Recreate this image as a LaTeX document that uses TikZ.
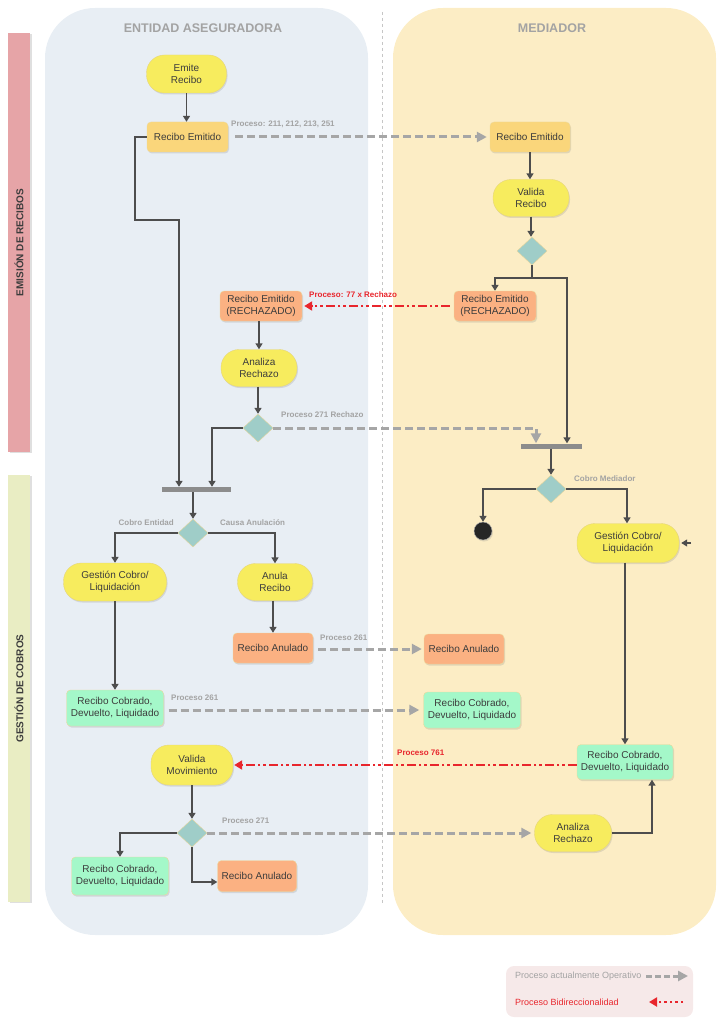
\documentclass[tikz,border=0pt]{standalone}
\usepackage{fontspec}
\setmainfont{Liberation Sans}
\usetikzlibrary{shapes.geometric,arrows.meta,shadows}
\definecolor{laneL}{HTML}{E8EEF4}
\definecolor{laneR}{HTML}{FCEDC5}
\definecolor{pillF}{HTML}{F7EC5E}
\definecolor{pillB}{HTML}{E6D67A}
\definecolor{boxYF}{HTML}{FAD67B}
\definecolor{boxSF}{HTML}{FBB182}
\definecolor{boxGF}{HTML}{A4F8C9}
\definecolor{boxB}{HTML}{EDD89A}
\definecolor{diaF}{HTML}{9FCDC8}
\definecolor{diaB}{HTML}{E3D49A}
\definecolor{txt}{HTML}{3C3C3C}
\definecolor{lineD}{HTML}{4D4D4D}
\definecolor{grayD}{HTML}{A6A6A6}
\definecolor{redD}{HTML}{E8262D}
\definecolor{lblG}{HTML}{A3A3A3}
\definecolor{barG}{HTML}{8C8C8C}
\definecolor{sideR}{HTML}{E6A4A7}
\definecolor{sideG}{HTML}{E9EDC3}
\definecolor{legF}{HTML}{F6E9E9}
\tikzset{
  shd/.style={drop shadow={shadow xshift=1pt,shadow yshift=-1.5pt,opacity=0.22}},
  pill/.style={shape=rectangle,rounded corners=18pt,draw=pillB,fill=pillF,shd,
    minimum width=78pt,minimum height=38pt,inner sep=1pt,align=center,
    text=txt,font=\fontsize{10}{12}\selectfont},
  boxbase/.style={shape=rectangle,rounded corners=4pt,draw=boxB,shd,
    minimum width=81pt,minimum height=30pt,inner sep=2pt,align=center,
    text=txt,font=\fontsize{10}{12}\selectfont},
  boxY/.style={boxbase,fill=boxYF},
  boxS/.style={boxbase,fill=boxSF,minimum width=82pt},
  boxG/.style={boxbase,fill=boxGF,minimum width=97pt,minimum height=36pt},
  dia/.style={shape=diamond,draw=diaB,fill=diaF,minimum width=30pt,minimum height=28pt,inner sep=0pt},
  barN/.style={shape=rectangle,fill=barG,minimum height=5pt,inner sep=0pt},
  endN/.style={shape=circle,fill=black!85,draw=gray!60,minimum size=18pt,inner sep=0pt,shd},
  arr/.style={draw=lineD,line width=1.6pt,-{Triangle[length=6pt,width=7pt]}},
  gdash/.style={draw=grayD,line width=3pt,dash pattern=on 8pt off 4pt,
    -{Triangle[length=10pt,width=10pt]}},
  redA/.style={draw=redD,line width=2.4pt,dash pattern=on 9pt off 3pt on 2.5pt off 3pt on 2.5pt off 3pt,
    -{Triangle[length=8pt,width=9pt]}},
  lbl/.style={text=lblG,font=\bfseries\fontsize{8}{9}\selectfont,inner sep=0pt},
  rlbl/.style={text=redD,font=\bfseries\fontsize{8}{9}\selectfont,inner sep=0pt},
  hdr/.style={text=lblG,font=\bfseries\fontsize{12.5}{14}\selectfont},
  side/.style={shape=rectangle,minimum width=22pt,inner sep=0pt,
    drop shadow={shadow xshift=2pt,shadow yshift=-1pt,opacity=0.25}},
  sidetxt/.style={rotate=90,text=txt,font=\bfseries\fontsize{10}{11}\selectfont}
}
\begin{document}
\begin{tikzpicture}[x=1pt,y=-1pt]
\useasboundingbox (0,0) rectangle (723,1024);
% lanes
\fill[laneL,rounded corners=50pt] (45,8) rectangle (368,935);
\fill[laneR,rounded corners=50pt] (393,8) rectangle (716,935);
\draw[gray!45,dashed,line width=0.6pt] (382,12) -- (382,905);
\node[hdr] (hL) at (203,28) {ENTIDAD ASEGURADORA};
\node[hdr] (hR) at (552,28) {MEDIADOR};
% side bars
\node[side,fill=sideR,minimum height=419pt] (s1) at (19,242.5) {};
\node[sidetxt] at (s1.center) {EMISIÓN DE RECIBOS};
\node[side,fill=sideG,minimum height=427pt] (s2) at (19,688.5) {};
\node[sidetxt] at (s2.center) {GESTIÓN DE COBROS};
% nodes
\node[pill,minimum width=80pt] (emite) at (186.5,74) {Emite\\Recibo};
\node[boxY] (re1) at (187.5,137) {Recibo Emitido};
\node[boxY,minimum width=80pt] (re2) at (530,137) {Recibo Emitido};
\node[pill,minimum width=76pt,minimum height=37pt] (valR) at (531,198) {Valida\\Recibo};
\node[dia] (d1) at (532,251) {};
\node[boxS] (rr2) at (495,306) {Recibo Emitido\\(RECHAZADO)};
\node[boxS] (rr1) at (261,306) {Recibo Emitido\\(RECHAZADO)};
\node[pill,minimum width=76pt,minimum height=37pt] (anR1) at (259,368) {Analiza\\Rechazo};
\node[dia] (d2) at (258,428) {};
\node[barN,minimum width=61pt] (barR) at (551,446) {};
\node[dia] (d3) at (551,489) {};
\node[endN] (endc) at (483,531) {};
\node[pill,minimum width=102pt,minimum height=39pt] (gcR) at (628,543) {Gestión Cobro/\\Liquidación};
\node[boxG,minimum width=96pt,minimum height=35pt] (rcR) at (625,762) {Recibo Cobrado,\\Devuelto, Liquidado};
\node[pill,minimum width=77pt,minimum height=37pt] (anR2) at (573,833) {Analiza\\Rechazo};
\node[barN,minimum width=69pt] (barL) at (196.5,489.5) {};
\node[dia] (d4) at (193,533) {};
\node[pill,minimum width=103pt,minimum height=38pt] (gcL) at (115,582) {Gestión Cobro/\\Liquidación};
\node[pill,minimum width=75pt,minimum height=37pt] (anul) at (275,582) {Anula\\Recibo};
\node[boxS,minimum width=80pt] (ra1) at (273,648) {Recibo Anulado};
\node[boxS,minimum width=80pt] (ra2) at (464,649) {Recibo Anulado};
\node[boxG] (rc1) at (115,708) {Recibo Cobrado,\\Devuelto, Liquidado};
\node[boxG] (rc2) at (472,710) {Recibo Cobrado,\\Devuelto, Liquidado};
\node[pill,minimum width=82pt,minimum height=40pt] (valM) at (192,765) {Valida\\Movimiento};
\node[dia] (d5) at (192,833) {};
\node[boxG,minimum height=38pt] (rc3) at (120,876) {Recibo Cobrado,\\Devuelto, Liquidado};
\node[boxS,minimum width=79pt,minimum height=31pt] (ra3) at (257,876) {Recibo Anulado};
% connectors
\draw[arr] (emite.south) -- (emite.south |- re1.north);
\draw[gdash] ([xshift=7pt]re1.east) -- ([xshift=-3pt]re2.west);
\node[lbl,anchor=west] (l1) at (231,124) {Proceso: 211, 212, 213, 251};
\draw[arr] (re2.south) -- (re2.south |- valR.north);
\draw[arr] (valR.south) -- (valR.south |- d1.north);
\draw[arr] (d1.south) -- ++(0,13) -| (rr2.north);
\draw[arr] (d1.south) -- ++(0,13) -| ([xshift=16pt]barR.north);
\draw[redA] ([xshift=-4pt]rr2.west) -- ([xshift=2pt]rr1.east);
\node[rlbl,anchor=west] (l2) at (309,295) {Proceso: 77 x Rechazo};
\draw[arr] (rr1.south -| anR1.north) -- (anR1.north);
\draw[arr] (anR1.south -| d2.north) -- (d2.north);
\draw[arr] (d2.west) -| ([xshift=15.5pt]barL.north);
\draw[gdash] (d2.east) -| ([xshift=-15pt]barR.north);
\node[lbl,anchor=west] (l3) at (281,415) {Proceso 271 Rechazo};
\draw[arr] (re1.west) -- ++(-12,0) -- ++(0,83) -| ([xshift=-17.5pt]barL.north);
\draw[arr] (barL.south -| d4.north) -- (d4.north);
\draw[arr] (d4.west) -| (gcL.north);
\draw[arr] (d4.east) -| (anul.north);
\node[lbl,anchor=east] (l4) at (174,523) {Cobro Entidad};
\node[lbl,anchor=west] (l5) at (220,523) {Causa Anulación};
\draw[arr] (anul.south -| ra1.north) -- (ra1.north);
\draw[gdash] ([xshift=5pt]ra1.east |- ra2.west) -- ([xshift=-2pt]ra2.west);
\node[lbl,anchor=west] (l6) at (320,638) {Proceso 261};
\draw[arr] (gcL.south -| rc1.north) -- (rc1.north);
\draw[gdash] ([xshift=5pt]rc1.east |- rc2.west) -- ([xshift=-4pt]rc2.west);
\node[lbl,anchor=west] (l7) at (171,698) {Proceso 261};
\draw[arr] (barR.south -| d3.north) -- (d3.north);
\draw[arr] (d3.west) -| (endc.north);
\draw[arr] (d3.east) -| ([xshift=-1pt]gcR.north);
\node[lbl,anchor=west] (l8) at (574,479) {Cobro Mediador};
\coordinate (stub) at (691,543);
\draw[arr,line width=1.2pt] (stub) -- ([xshift=2pt]gcR.east);
\draw[arr] (gcR.south -| rcR.north) -- (rcR.north);
\draw[redA] (rcR.west |- valM.east) -- ([xshift=1pt]valM.east);
\node[rlbl,anchor=west] (l9) at (397,753) {Proceso 761};
\draw[arr] (anR2.east) -| ([xshift=27pt]rcR.south);
\draw[arr] (valM.south -| d5.north) -- (d5.north);
\draw[arr] (d5.west) -| (rc3.north);
\draw[arr] (d5.south) |- ([yshift=-6pt]ra3.west);
\draw[gdash] (d5.east) -- ([xshift=-3pt]anR2.west);
\node[lbl,anchor=west] (l10) at (222,821) {Proceso 271};
% legend
\fill[legF,rounded corners=8pt] (506,966) rectangle (693,1017);
\node[text=lblG,font=\fontsize{9}{10}\selectfont,anchor=west,inner sep=0pt] (lg1) at (515,976) {Proceso actualmente Operativo};
\node[text=redD,font=\fontsize{9}{10}\selectfont,anchor=west,inner sep=0pt] (lg2) at (515,1002) {Proceso Bidireccionalidad};
\coordinate (lgA1) at (646,976);
\coordinate (lgA2) at (688,976);
\draw[gdash,dash pattern=on 6pt off 3pt] (lgA1) -- (lgA2);
\coordinate (lgB1) at (683,1002);
\coordinate (lgB2) at (649,1002);
\draw[redA,dash pattern=on 2.5pt off 3pt] (lgB1) -- (lgB2);
\end{tikzpicture}
\end{document}
